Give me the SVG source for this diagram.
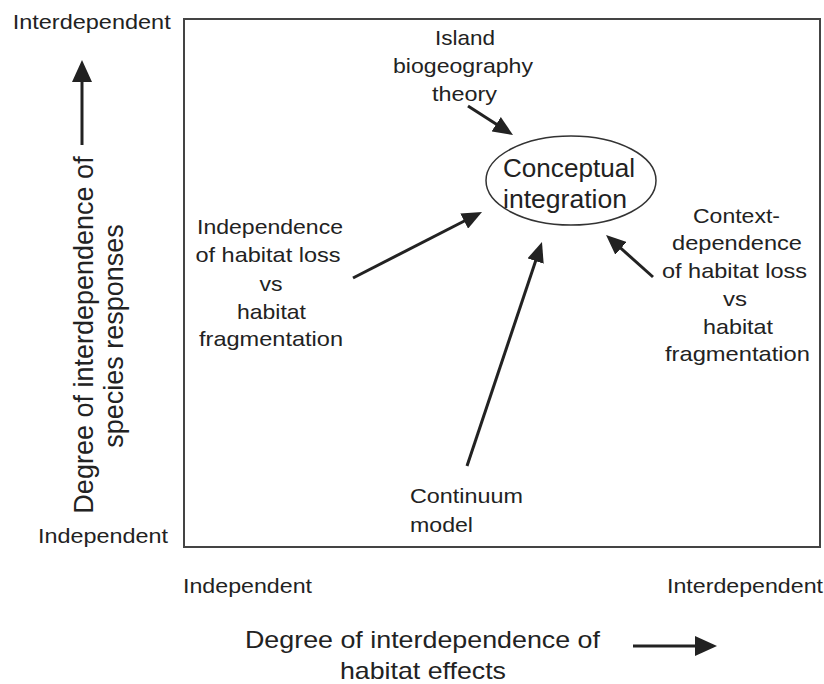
<svg xmlns="http://www.w3.org/2000/svg" width="824" height="684" viewBox="0 0 824 684">
<style>
text{font-family:"Liberation Sans",Arial,sans-serif;fill:#222;}
.ax{font-size:21px;}
.lb{font-size:21px;text-anchor:middle;}
.ttl{font-size:24px;text-anchor:middle;}
.rot{font-size:27px;text-anchor:middle;}
.ce{font-size:25px;text-anchor:middle;}
.con{stroke:#222;stroke-width:3;fill:none;}
</style>
<defs>
<marker id="ah" viewBox="0 0 20 17" markerWidth="20" markerHeight="17" refX="10" refY="8.5" orient="auto" markerUnits="userSpaceOnUse">
<path d="M0,0 L20,8.5 L0,17 z" fill="#222"/>
</marker>
<marker id="ahx" viewBox="0 0 22 20" markerWidth="22" markerHeight="20" refX="12" refY="10" orient="auto" markerUnits="userSpaceOnUse">
<path d="M0,0 L22,10 L0,20 z" fill="#222"/>
</marker>
</defs>
<rect width="824" height="684" fill="#fff"/>

<g id="frame">
<rect x="184" y="19" width="636" height="528" fill="none" stroke="#444" stroke-width="2"/>
</g>

<g id="axis-y">
<text class="ax" x="12.7" y="29" textLength="158" lengthAdjust="spacingAndGlyphs">Interdependent</text>
<text class="ax" x="38" y="543" textLength="130" lengthAdjust="spacingAndGlyphs">Independent</text>
<line class="con" x1="82" y1="145" x2="82" y2="70" marker-end="url(#ahx)"/>
<text class="rot" transform="translate(93,335) rotate(-90)">Degree of interdependence of</text>
<text class="rot" transform="translate(123,336) rotate(-90)">species responses</text>
</g>

<g id="axis-x">
<text class="ax" x="183" y="593" textLength="129" lengthAdjust="spacingAndGlyphs">Independent</text>
<text class="ax" x="667" y="593" textLength="156" lengthAdjust="spacingAndGlyphs">Interdependent</text>
<text class="ttl" x="422.5" y="648" textLength="355" lengthAdjust="spacingAndGlyphs">Degree of interdependence of</text>
<text class="ttl" x="423" y="679" textLength="166" lengthAdjust="spacingAndGlyphs">habitat effects</text>
<line class="con" x1="633" y1="646" x2="707" y2="646" marker-end="url(#ahx)"/>
</g>

<g id="node-integration">
<ellipse cx="571" cy="180.5" rx="85" ry="44.5" fill="none" stroke="#333" stroke-width="1.5"/>
<text class="ce" x="569" y="177" textLength="132" lengthAdjust="spacingAndGlyphs">Conceptual</text>
<text class="ce" x="565" y="208" textLength="124" lengthAdjust="spacingAndGlyphs">integration</text>
</g>

<g id="node-island">
<text class="lb" x="465" y="45" textLength="60" lengthAdjust="spacingAndGlyphs">Island</text>
<text class="lb" x="463" y="73" textLength="140" lengthAdjust="spacingAndGlyphs">biogeography</text>
<text class="lb" x="464.5" y="101" textLength="65" lengthAdjust="spacingAndGlyphs">theory</text>
</g>

<g id="node-independence">
<text class="lb" x="270" y="234" textLength="146" lengthAdjust="spacingAndGlyphs">Independence</text>
<text class="lb" x="268" y="262" textLength="145" lengthAdjust="spacingAndGlyphs">of habitat loss</text>
<text class="lb" x="271" y="291" textLength="23" lengthAdjust="spacingAndGlyphs">vs</text>
<text class="lb" x="271.5" y="319" textLength="69" lengthAdjust="spacingAndGlyphs">habitat</text>
<text class="lb" x="271" y="346" textLength="144" lengthAdjust="spacingAndGlyphs">fragmentation</text>
</g>

<g id="node-context">
<text class="lb" x="736.5" y="223" textLength="87" lengthAdjust="spacingAndGlyphs">Context-</text>
<text class="lb" x="737" y="250" textLength="130" lengthAdjust="spacingAndGlyphs">dependence</text>
<text class="lb" x="734.5" y="278" textLength="145" lengthAdjust="spacingAndGlyphs">of habitat loss</text>
<text class="lb" x="735" y="306" textLength="24" lengthAdjust="spacingAndGlyphs">vs</text>
<text class="lb" x="738" y="334" textLength="70" lengthAdjust="spacingAndGlyphs">habitat</text>
<text class="lb" x="737.5" y="361" textLength="145" lengthAdjust="spacingAndGlyphs">fragmentation</text>
</g>

<g id="node-continuum">
<text class="ax" x="410" y="503" textLength="113" lengthAdjust="spacingAndGlyphs">Continuum</text>
<text class="ax" x="410" y="532" textLength="63" lengthAdjust="spacingAndGlyphs">model</text>
</g>

<g id="connectors">
<line class="con" x1="468" y1="106" x2="504.6" y2="129.6" marker-end="url(#ah)"/>
<line class="con" x1="353" y1="278" x2="473.1" y2="216.5" marker-end="url(#ah)"/>
<line class="con" x1="467" y1="466" x2="538.8" y2="251.5" marker-end="url(#ah)"/>
<line class="con" x1="653" y1="277" x2="613.5" y2="241.7" marker-end="url(#ah)"/>
</g>
</svg>
